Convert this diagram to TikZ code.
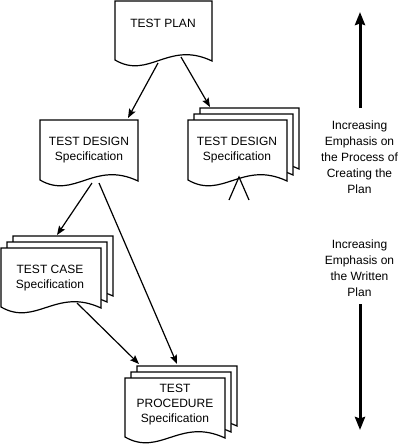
\documentclass[tikz,border=0pt]{standalone}
\usepackage{fontspec}
\setmainfont{Liberation Sans}
\usetikzlibrary{arrows.meta}
\newcommand\docsheet[4]{%
  \filldraw[docline] (#1,#2) -- ({#1+#3},#2) -- ({#1+#3},{#2+#4+1})
    .. controls ({#1+0.55*#3},{#2+#4-20}) and ({#1+0.35*#3},{#2+#4+20}) .. (#1,{#2+#4}) -- cycle;}
\newcommand\docstack[4]{%
  \docsheet{#1+12}{#2-12}{#3}{#4}
  \docsheet{#1+6}{#2-6}{#3}{#4}
  \docsheet{#1}{#2}{#3}{#4}}
\begin{document}
\begin{tikzpicture}[x=1pt,y=-1pt,
  docline/.style={draw=black,fill=white,line width=1.2pt,line join=miter},
  label/.style={align=center,font=\fontsize{12}{15}\selectfont,inner sep=0pt},
  sidelabel/.style={align=center,font=\fontsize{12}{16}\selectfont,inner sep=0pt},
  conn/.style={line width=1.2pt,-{Stealth[length=9pt,width=7pt,inset=1.5pt]}},
  plainconn/.style={line width=1.2pt},
  bigarrow/.style={line width=3pt,-{Stealth[length=13pt,width=10pt,inset=1.5pt]}}]
\useasboundingbox[fill=white] (0,0) rectangle (400,445);

% documents
\docsheet{115}{1}{97}{59}
\docsheet{40}{120}{98}{60}
\docstack{188}{120}{99}{60}
\docstack{1}{248}{100}{59}
\docstack{125}{378}{100}{59}

% texts
\node[label] (plan) at (163,23) {TEST PLAN};
\node[label] (designL) at (89,150) {TEST DESIGN\\Specification};
\node[label] (designR) at (237,150) {TEST DESIGN\\Specification};
\node[label] (case) at (50,278) {TEST CASE\\Specification};
\node[label] (proc) at (175,405) {TEST\\PROCEDURE\\Specification};
\node[sidelabel] (emph1) at (359.5,157) {Increasing\\Emphasis on\\the Process of\\Creating the\\Plan};
\node[sidelabel] (emph2) at (359.5,268) {Increasing\\Emphasis on\\the Written\\Plan};

% connector end points
\coordinate (planL) at (158,63);
\coordinate (planR) at (181,57);
\coordinate (dLtop) at (128,118);
\coordinate (dRtop) at (210,107);
\coordinate (dLbot1) at (92,183);
\coordinate (dLbot2) at (99,183);
\coordinate (caseTop) at (57,235);
\coordinate (caseBot) at (77,303);
\coordinate (procTop1) at (139,364);
\coordinate (procTop2) at (177,364);
\coordinate (dRbot) at (239,177);
\coordinate (vL) at (229,200);
\coordinate (vR) at (249,200);
\coordinate (upStart) at (360,108);
\coordinate (upEnd) at (360,12);
\coordinate (downStart) at (360,304);
\coordinate (downEnd) at (360,430);

\draw[conn] (planL) -- (dLtop);
\draw[conn] (planR) -- (dRtop);
\draw[conn] (dLbot1) -- (caseTop);
\draw[conn] (dLbot2) -- (procTop2);
\draw[conn] (caseBot) -- (procTop1);
\draw[plainconn] (vL) -- (dRbot) -- (vR);
\draw[bigarrow] (upStart) -- (upEnd);
\draw[bigarrow] (downStart) -- (downEnd);
\end{tikzpicture}
\end{document}
